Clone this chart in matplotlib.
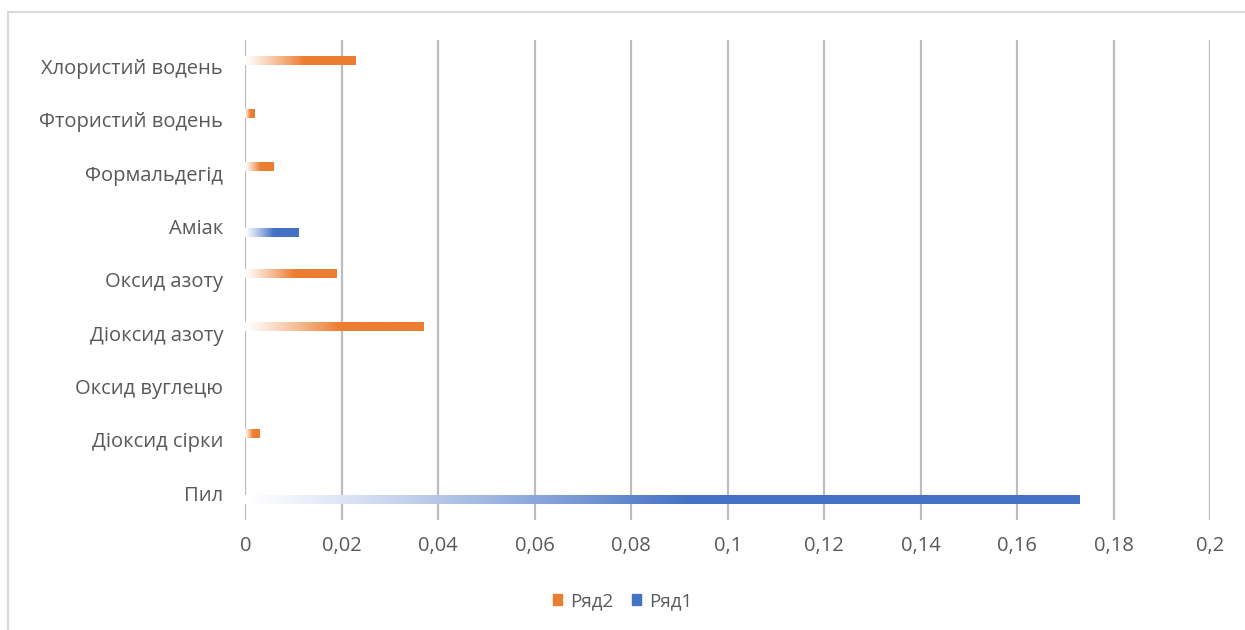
import matplotlib.pyplot as plt
import numpy as np
from matplotlib.colors import LinearSegmentedColormap
from matplotlib.lines import Line2D
from matplotlib.patches import Patch

plt.rcParams['font.family'] = ['Open Sans', 'DejaVu Sans']

categories = ['Пил', 'Діоксид сірки', 'Оксид вуглецю', 'Діоксид азоту', 'Оксид азоту',
              'Аміак', 'Формальдегід', 'Фтористий водень', 'Хлористий водень']
row1 = [0.173, 0, 0, 0, 0, 0.011, 0, 0, 0]          # Ряд1
row2 = [0, 0.003, 0, 0.037, 0.019, 0, 0.006, 0.002, 0.023]  # Ряд2
xticks = [0, 0.02, 0.04, 0.06, 0.08, 0.1, 0.12, 0.14, 0.16, 0.18, 0.2]

blue = '#4472C4'
orange = '#ED7D31'
text_col = '#595959'

fig = plt.figure(figsize=(12.45, 6.3), dpi=100)
ax = fig.add_axes([0.197, 0.175, 0.775, 0.762])

y = np.arange(len(categories))
h = 0.17
off = 0.115


def grad_bars(vals, ypos, color):
    cmap = LinearSegmentedColormap.from_list('g', ['#ffffff', color, color])
    grad = np.linspace(0, 1, 256).reshape(1, -1) ** 1.1
    for v, yy in zip(vals, ypos):
        if v <= 0:
            continue
        bar = ax.barh(yy, v, height=h, color='none', edgecolor='none')[0]
        im = ax.imshow(grad, cmap=cmap, aspect='auto', extent=[0, v, yy - h / 2, yy + h / 2],
                       interpolation='bicubic', zorder=3)
        im.set_clip_path(bar)


grad_bars(row1, y - off, blue)
grad_bars(row2, y + off, orange)

ax.set_xlim(0, 0.2)
ax.set_ylim(-0.5, len(categories) - 0.5)
ax.set_xticks(xticks)
ax.set_xticklabels([('%g' % t).replace('.', ',') for t in xticks])
ax.set_yticks(y)
ax.set_yticklabels(categories)
ax.tick_params(length=0, labelsize=14.5, colors=text_col)
ax.tick_params(axis='x', pad=12)
ax.tick_params(axis='y', pad=16)
ax.grid(axis='x', color='#BDBDBD', linewidth=1.6, zorder=0)
ax.set_axisbelow(True)
for s in ax.spines.values():
    s.set_visible(False)

handles = [Patch(color=orange, label='Ряд2'), Patch(color=blue, label='Ряд1')]
fig.legend(handles=handles, loc='center', bbox_to_anchor=(0.5, 0.046), ncol=2, frameon=False,
           fontsize=13.5, labelcolor=text_col, handlelength=0.5, handleheight=0.5,
           handletextpad=0.4, columnspacing=1.0)

# outer chart border
fig.add_artist(Line2D([8 / 1245, 1], [1 - 12 / 630, 1 - 12 / 630], color='#D9D9D9', lw=1.5))
fig.add_artist(Line2D([8 / 1245, 8 / 1245], [0, 1 - 12 / 630], color='#D9D9D9', lw=1.5))

fig.savefig('out.png')
